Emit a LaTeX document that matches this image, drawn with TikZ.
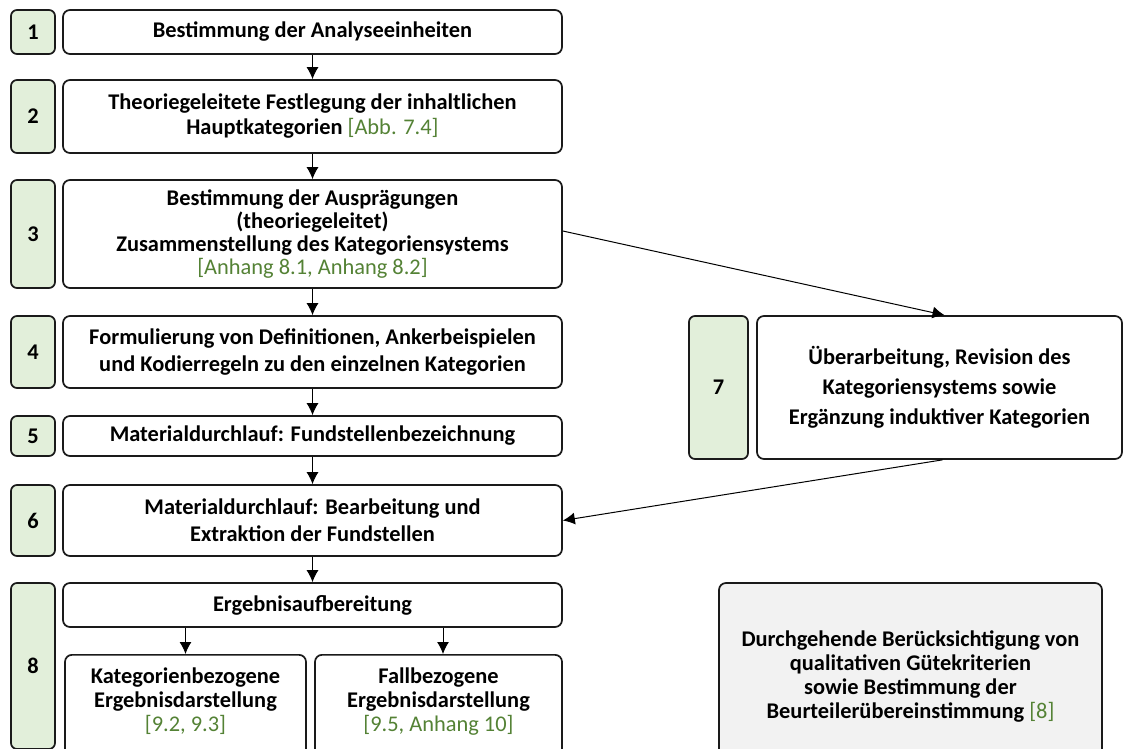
\documentclass[tikz,border=0pt]{standalone}
\usepackage{fontspec}
\setmainfont{Carlito}
\usetikzlibrary{arrows.meta}
\definecolor{numfill}{HTML}{E2EFDA}
\definecolor{refgreen}{HTML}{548235}
\definecolor{grayfill}{HTML}{F2F2F2}
\definecolor{edge}{HTML}{1A1A1A}
\newcommand{\rf}[1]{{\mdseries\color{refgreen}#1}}
\tikzset{
  box/.style={draw=edge, line width=1.7pt, rounded corners=7pt, fill=white,
    align=center, inner sep=0pt, text=black,
    font=\bfseries\fontsize{22.4}{26}\selectfont},
  lskip/.style={font=\bfseries\fontsize{22.4}{#1}\selectfont},
  numbox/.style={box, fill=numfill, rounded corners=6pt},
  graybox/.style={box, fill=grayfill},
  arr/.style={-{Latex[length=12pt,width=12pt]}, line width=1pt, draw=black},
}
\begin{document}
\begin{tikzpicture}[x=1pt,y=-1pt]
\clip (0,0) rectangle (1132,749);
\fill[white] (0,0) rectangle (1132,749);

% number boxes
\node[numbox, minimum width=44, minimum height=44] (n1) at (33,32) {1};
\node[numbox, minimum width=44, minimum height=73] (n2) at (33,116.5) {2};
\node[numbox, minimum width=44, minimum height=108] (n3) at (33,234) {3};
\node[numbox, minimum width=44, minimum height=72] (n4) at (33,352) {4};
\node[numbox, minimum width=44, minimum height=40] (n5) at (33,436) {5};
\node[numbox, minimum width=44, minimum height=71] (n6) at (33,520.5) {6};
\node[numbox, minimum width=44, minimum height=166] (n8) at (33,666) {8};
\node[numbox, minimum width=59, minimum height=143] (n7) at (718.5,387.5) {7};

% main boxes
\node[box, minimum width=499, minimum height=44] (b1) at (312.5,32)
  {Bestimmung der Analyseeinheiten};
\node[box, lskip=25, minimum width=499, minimum height=73] (b2) at (312.5,116.5)
  {Theoriegeleitete Festlegung der inhaltlichen\\Hauptkategorien \rf{[Abb. 7.4]}};
\node[box, lskip=23.3, minimum width=499, minimum height=108] (b3) at (312.5,234)
  {Bestimmung der Ausprägungen\\(theoriegeleitet)\\Zusammenstellung des Kategoriensystems\\\rf{[Anhang 8.1, Anhang 8.2]}};
\node[box, lskip=26.5, minimum width=499, minimum height=72] (b4) at (312.5,352)
  {Formulierung von Definitionen, Ankerbeispielen\\und Kodierregeln zu den einzelnen Kategorien};
\node[box, minimum width=499, minimum height=40] (b5) at (312.5,436)
  {Materialdurchlauf: Fundstellenbezeichnung};
\node[box, lskip=27, minimum width=499, minimum height=71] (b6) at (312.5,520.5)
  {Materialdurchlauf: Bearbeitung und\\Extraktion der Fundstellen};
\node[box, minimum width=499, minimum height=44] (b8) at (312.5,605)
  {Ergebnisaufbereitung};
\node[box, lskip=24, anchor=north, minimum width=241, minimum height=110] (s1) at (185.5,654)
  {\parbox[c][110pt][t]{235pt}{\centering\vspace*{13pt}Kategorienbezogene\\Ergebnisdarstellung\\\rf{[9.2, 9.3]}}};
\node[box, lskip=24, anchor=north, minimum width=247, minimum height=110] (s2) at (438.5,654)
  {\parbox[c][110pt][t]{240pt}{\centering\vspace*{13pt}Fallbezogene\\Ergebnisdarstellung\\\rf{[9.5, Anhang 10]}}};

\node[box, lskip=30, minimum width=365, minimum height=143] (b7) at (939.5,387.5)
  {Überarbeitung, Revision des\\Kategoriensystems sowie\\Ergänzung induktiver Kategorien};

\node[graybox, lskip=23.7, minimum width=383, minimum height=187] (g) at (910.5,676.5)
  {Durchgehende Berücksichtigung von\\qualitativen Gütekriterien\\sowie Bestimmung der\\Beurteilerübereinstimmung \rf{[8]}};

% arrows
\draw[arr] (b1) -- (b2);
\draw[arr] (b2) -- (b3);
\draw[arr] (b3) -- (b4);
\draw[arr] (b4) -- (b5);
\draw[arr] (b5) -- (b6);
\draw[arr] (b6) -- (b8);
\draw[arr] (s1.north |- b8.south) -- (s1.north);
\draw[arr] ([xshift=4.5pt]s2.north |- b8.south) -- ([xshift=4.5pt]s2.north);
\draw[arr] ([yshift=3pt]b3.east) -- ([xshift=5pt]b7.north);
\draw[arr] ([xshift=3pt]b7.south) -- (b6.east);
\end{tikzpicture}
\end{document}
